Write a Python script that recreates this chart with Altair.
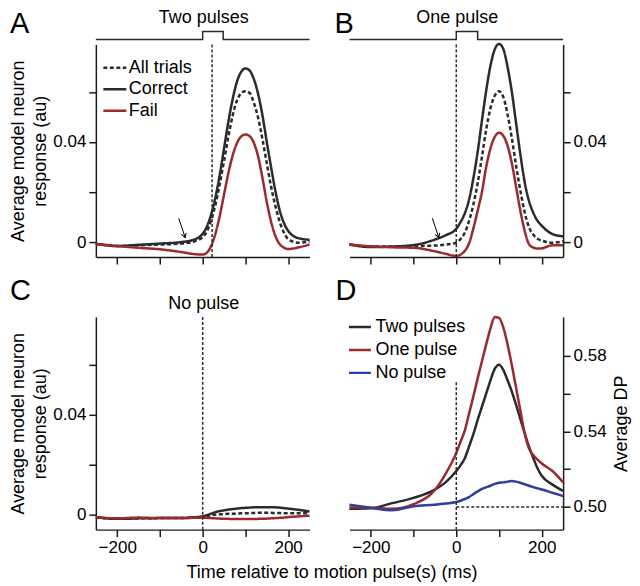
import altair as alt
import pandas as pd

FONT = "Liberation Sans"
DARK = "#2b2b2b"
RED = "#9b2a2c"
BLUE = "#2d3f9f"

# ---------------- data ----------------
time_ms = [-250, -200, -150, -100, -50, -25, 0, 10, 20, 30, 40, 50, 60, 70, 80,
           90, 100, 110, 120, 130, 140, 150, 160, 170, 180, 190, 200, 225, 250]

# Panel A: two pulses
a_all = [-0.0007, -0.0016, -0.0013, -0.0010, -0.0006, 0.0000, 0.0020, 0.0043, 0.0088,
         0.0150, 0.0232, 0.0325, 0.0420, 0.0505, 0.0565, 0.0595, 0.0603, 0.0596, 0.0555,
         0.0495, 0.0410, 0.0315, 0.0222, 0.0145, 0.0082, 0.0038, 0.0012, -0.0003, 0.0003]
a_correct = [-0.0007, -0.0016, -0.0011, -0.0006, 0.0000, 0.0007, 0.0033, 0.0063, 0.0112,
             0.0180, 0.0270, 0.0375, 0.0480, 0.0570, 0.0640, 0.0680, 0.0694, 0.0685, 0.0650,
             0.0590, 0.0505, 0.0400, 0.0300, 0.0205, 0.0128, 0.0077, 0.0045, 0.0015, 0.0009]
a_fail = [-0.0007, -0.0016, -0.0023, -0.0029, -0.0040, -0.0047, -0.0050, -0.0042, -0.0015,
          0.0035, 0.0105, 0.0190, 0.0275, 0.0345, 0.0395, 0.0422, 0.0430, 0.0423, 0.0395,
          0.0340, 0.0255, 0.0160, 0.0082, 0.0025, -0.0008, -0.0022, -0.0028, -0.0021, -0.0010]

# Panel B: one pulse
b_all = [-0.0010, -0.0018, -0.0018, -0.0016, -0.0014, -0.0010, -0.0003, 0.0012, 0.0037,
         0.0085, 0.0150, 0.0235, 0.0340, 0.0450, 0.0535, 0.0585, 0.0603, 0.0580, 0.0510,
         0.0415, 0.0305, 0.0205, 0.0120, 0.0060, 0.0030, 0.0013, 0.0006, -0.0003, 0.0003]
b_correct = [-0.0010, -0.0020, -0.0018, -0.0012, 0.0010, 0.0027, 0.0053, 0.0080, 0.0115,
             0.0170, 0.0255, 0.0360, 0.0485, 0.0605, 0.0705, 0.0770, 0.0792, 0.0772, 0.0700,
             0.0600, 0.0475, 0.0350, 0.0240, 0.0165, 0.0118, 0.0085, 0.0065, 0.0032, 0.0023]
b_fail = [-0.0010, -0.0017, -0.0021, -0.0023, -0.0037, -0.0047, -0.0056, -0.0050, -0.0035,
          -0.0005, 0.0055, 0.0125, 0.0200, 0.0300, 0.0375, 0.0420, 0.0437, 0.0425, 0.0385,
          0.0315, 0.0220, 0.0125, 0.0045, -0.0008, -0.0022, -0.0026, -0.0025, -0.0013, -0.0013]

# Panel C: no pulse
c_all = [-0.0010, -0.0017, -0.0015, -0.0014, -0.0014, -0.0012, -0.0009, -0.0006, -0.0003,
         0.0000, 0.0001, 0.0002, 0.0003, 0.0003, 0.0004, 0.0005, 0.0005, 0.0006, 0.0006,
         0.0007, 0.0007, 0.0007, 0.0007, 0.0006, 0.0006, 0.0005, 0.0005, 0.0005, 0.0005]
c_correct = [-0.0010, -0.0017, -0.0015, -0.0014, -0.0014, -0.0011, -0.0007, -0.0002, 0.0004,
             0.0010, 0.0014, 0.0017, 0.0020, 0.0022, 0.0024, 0.0026, 0.0027, 0.0028, 0.0029,
             0.0029, 0.0029, 0.0029, 0.0029, 0.0029, 0.0028, 0.0026, 0.0024, 0.0019, 0.0012]
c_fail = [-0.0010, -0.0015, -0.0012, -0.0014, -0.0014, -0.0013, -0.0012, -0.0013, -0.0014,
          -0.0015, -0.0016, -0.0017, -0.0017, -0.0018, -0.0018, -0.0018, -0.0018, -0.0018,
          -0.0018, -0.0017, -0.0017, -0.0016, -0.0015, -0.0014, -0.0013, -0.0012, -0.0010,
          -0.0007, -0.0004]

# Panel D: average DP
d_two = [0.4990, 0.4993, 0.5020, 0.5048, 0.5092, 0.5130, 0.5190, 0.5220, 0.5258, 0.5320,
         0.5385, 0.5460, 0.5530, 0.5600, 0.5670, 0.5730, 0.5752, 0.5725, 0.5670, 0.5610,
         0.5540, 0.5465, 0.5390, 0.5320, 0.5260, 0.5205, 0.5165, 0.5118, 0.5085]
d_one = [0.4997, 0.4996, 0.4990, 0.5015, 0.5090, 0.5175, 0.5286, 0.5345, 0.5405, 0.5495,
         0.5585, 0.5680, 0.5770, 0.5860, 0.5945, 0.6005, 0.6000, 0.5950, 0.5860, 0.5750,
         0.5630, 0.5510, 0.5390, 0.5310, 0.5275, 0.5250, 0.5230, 0.5190, 0.5130]
d_none = [0.5012, 0.4996, 0.4982, 0.5004, 0.5012, 0.5018, 0.5026, 0.5033, 0.5042, 0.5052,
          0.5068, 0.5082, 0.5095, 0.5104, 0.5112, 0.5122, 0.5128, 0.5130, 0.5134, 0.5137,
          0.5134, 0.5128, 0.5120, 0.5112, 0.5105, 0.5098, 0.5092, 0.5075, 0.5058]

trial_series = ["All trials", "Correct", "Fail"]
dp_series = ["Two pulses", "One pulse", "No pulse"]
panel_titles = ["Two pulses", "One pulse", "No pulse"]

# pulse timing traces drawn above panels A and B
pulse_a_t = [-250, 0, 0, 48, 48, 250]
pulse_b_t = [-250, 0, 0, 50, 50, 250]
pulse_level = [0, 0, 1, 1, 0, 0]

# reference (dashed) times
marker_a = [22]
marker_b = [0]
marker_c = [0]

# arrows in A and B (tail -> head)
arrow_t = [-56, -41]
arrow_v = [0.0095, 0.0018]

# Panel D reference lines
d_vline_t = [0]
d_vline_top = [0.566]
d_vline_bottom = [0.488]
d_hline_v = [0.5]
d_hline_t = [0, 250]

W = 214
H = 213
X_DOMAIN = [-250, 250]
Y_DOMAIN = [-0.006, 0.079]
D_DOMAIN = [0.488, 0.6005]

ALL_SERIES = trial_series + dp_series
COLOR_SCALE = alt.Scale(domain=ALL_SERIES, range=[DARK, DARK, RED, DARK, RED, BLUE])
DASH_SCALE = alt.Scale(domain=ALL_SERIES,
                       range=[[4, 2.5], [1, 0], [1, 0], [1, 0], [1, 0], [1, 0]])


def long_df(series_names, arrays):
    rows = []
    for name, arr in zip(series_names, arrays):
        for t, v in zip(time_ms, arr):
            rows.append({"t": t, "v": v, "series": name})
    return pd.DataFrame(rows)


xs = alt.Scale(domain=X_DOMAIN, nice=False, zero=False)
ys = alt.Scale(domain=Y_DOMAIN, nice=False, zero=False)
ds = alt.Scale(domain=D_DOMAIN, nice=False, zero=False)

X_VALUES = [-200, -100, 0, 100, 200]
X_LABEL_EXPR = "datum.value % 200 == 0 ? datum.label : ''"
Y_LABEL_EXPR = "datum.value == 0 ? '0' : (abs(datum.value - 0.04) < 1e-6 ? '0.04' : '')"
D_LABEL_EXPR = "round(datum.value * 100) % 4 == 2 ? format(datum.value, '.2f') : ''"

Y_TITLE = ["Average model neuron", "response (au)"]


def x_axis(labels, title=None):
    kw = dict(values=X_VALUES, labels=labels, grid=False, tickSize=7)
    if labels:
        kw["labelExpr"] = X_LABEL_EXPR
    if title:
        kw.update(title=title, titleX=236, titleY=48, titleAlign="center",
                  titleBaseline="alphabetic", titleAnchor="middle")
    else:
        kw["title"] = None
    return alt.Axis(**kw)


def y_axis(orient):
    kw = dict(values=[0, 0.02, 0.04, 0.06], labelExpr=Y_LABEL_EXPR, orient=orient,
              grid=False, tickSize=7)
    if orient == "left":
        kw.update(title=Y_TITLE, titleAngle=270, titleX=-77, titleY=H / 2,
                  titleAlign="center", titleBaseline="middle", titleLineHeight=22)
    else:
        kw["title"] = None
    return alt.Axis(**kw)


def letter_layer(letter, dx, dy):
    return alt.Chart(pd.DataFrame({"letter": [letter]})).mark_text(
        fontSize=29, font=FONT, align="left", baseline="alphabetic", color="black"
    ).encode(text="letter:N", x=alt.value(dx), y=alt.value(dy))


def title_layer(text, dy):
    return alt.Chart(pd.DataFrame({"title": [text]})).mark_text(
        fontSize=18, font=FONT, align="center", baseline="alphabetic", color="black"
    ).encode(text="title:N", x=alt.value(W / 2 + 1), y=alt.value(dy))


def response_panel(arrays, letter, ldx, ldy, title, tdy, orient, marker, pulse_t=None,
                   show_legend=False, x_labels=False, x_title=None, arrow=False):
    xa = x_axis(x_labels, x_title)
    df = long_df(trial_series, arrays)
    if show_legend:
        leg = alt.Legend(title=None, orient="none", legendX=6, legendY=13,
                         values=trial_series,
                         symbolType="stroke", symbolSize=529, symbolStrokeWidth=2.5,
                         labelFontSize=18, labelFont=FONT, labelColor="black",
                         labelOffset=1, rowPadding=0.5, clipHeight=21, padding=0)
    else:
        leg = None
    lines = alt.Chart(df).mark_line(strokeWidth=2.5, interpolate="monotone").encode(
        x=alt.X("t:Q", scale=xs, axis=xa),
        y=alt.Y("v:Q", scale=ys, axis=y_axis(orient)),
        color=alt.Color("series:N", scale=COLOR_SCALE, legend=leg),
        strokeDash=alt.StrokeDash("series:N", scale=DASH_SCALE, legend=leg),
    )
    rule = alt.Chart(pd.DataFrame({"t": marker})).mark_rule(
        strokeDash=[3, 2], strokeWidth=1.5, color=DARK
    ).encode(x=alt.X("t:Q", scale=xs, axis=xa))
    layers = [lines, rule]
    if pulse_t is not None:
        pdf = pd.DataFrame({"t": pulse_t, "level": pulse_level,
                            "i": list(range(len(pulse_t)))})
        pulse = alt.Chart(pdf).mark_line(strokeWidth=1.5, color=DARK).encode(
            x=alt.X("t:Q", scale=xs, axis=xa),
            y=alt.Y("level:Q", scale=alt.Scale(domain=[0, 1], range=[-5, -13]),
                    axis=None),
            order=alt.Order("i:Q"),
        )
        layers.append(pulse)
    if arrow:
        adf = pd.DataFrame({"t0": [arrow_t[0]], "t1": [arrow_t[1]],
                            "v0": [arrow_v[0]], "v1": [arrow_v[1]]})
        shaft = alt.Chart(adf).mark_rule(strokeWidth=1, color="black").encode(
            x=alt.X("t0:Q", scale=xs, axis=xa), x2="t1:Q",
            y=alt.Y("v0:Q", scale=ys, axis=None), y2="v1:Q")
        head = alt.Chart(adf).mark_point(
            shape="M-0.6,-1L0,0L0.6,-1", size=70, angle=341, filled=False,
            strokeWidth=1, color="black", opacity=1
        ).encode(x=alt.X("t1:Q", scale=xs, axis=xa),
                 y=alt.Y("v1:Q", scale=ys, axis=None))
        layers += [shaft, head]
    layers.append(letter_layer(letter, ldx, ldy))
    layers.append(title_layer(title, tdy))
    return alt.layer(*layers).resolve_scale(y="independent").properties(width=W, height=H)


panel_a = response_panel([a_all, a_correct, a_fail], "A", -86, -11, panel_titles[0], -21,
                         "left", marker_a, pulse_t=pulse_a_t, show_legend=True, arrow=True)
panel_b = response_panel([b_all, b_correct, b_fail], "B", -15, -11, panel_titles[1], -21,
                         "right", marker_b, pulse_t=pulse_b_t, arrow=True)
panel_c = response_panel([c_all, c_correct, c_fail], "C", -86, -17, panel_titles[2], -8,
                         "left", marker_c, x_labels=True,
                         x_title="Time relative to motion pulse(s) (ms)")

# Panel D
d_xa = x_axis(True)
ddf = long_df(dp_series, [d_two, d_one, d_none])
d_leg = alt.Legend(title=None, orient="none", legendX=-2, legendY=-1, values=dp_series,
                   symbolType="stroke", symbolSize=484, symbolStrokeWidth=2.5,
                   labelFontSize=18, labelFont=FONT, labelColor="black",
                   labelOffset=3, rowPadding=1, clipHeight=22, padding=0)
d_lines = alt.Chart(ddf).mark_line(strokeWidth=2.5, interpolate="monotone").encode(
    x=alt.X("t:Q", scale=xs, axis=d_xa),
    y=alt.Y("v:Q", scale=ds,
            axis=alt.Axis(values=[0.50, 0.52, 0.54, 0.56, 0.58], labelExpr=D_LABEL_EXPR,
                          orient="right", grid=False, tickSize=7, title="Average DP",
                          titleAngle=270, titleX=58, titleY=H / 2, titleAlign="center",
                          titleBaseline="middle")),
    color=alt.Color("series:N", scale=COLOR_SCALE, legend=d_leg),
)
d_vdf = pd.DataFrame({"t": d_vline_t, "top": d_vline_top, "bottom": d_vline_bottom})
d_vrule = alt.Chart(d_vdf).mark_rule(strokeDash=[3, 2], strokeWidth=1.5, color=DARK).encode(
    x=alt.X("t:Q", scale=xs, axis=d_xa),
    y=alt.Y("top:Q", scale=ds, axis=None), y2="bottom:Q")
d_hdf = pd.DataFrame({"v": d_hline_v, "t0": [d_hline_t[0]], "t1": [d_hline_t[1]]})
d_hrule = alt.Chart(d_hdf).mark_rule(strokeDash=[3, 2], strokeWidth=1.5, color=DARK).encode(
    x=alt.X("t0:Q", scale=xs, axis=d_xa), x2="t1:Q",
    y=alt.Y("v:Q", scale=ds, axis=None))
panel_d = alt.layer(d_lines, d_vrule, d_hrule, letter_layer("D", -14, -17)).resolve_scale(
    y="independent").properties(width=W, height=H)

chart = alt.concat(
    panel_a, panel_b, panel_c, panel_d, columns=2,
    spacing={"row": 60, "column": 40}, bounds="flush"
).resolve_scale(
    x="independent", y="independent"
).resolve_legend(
    color="independent", strokeDash="independent"
).properties(
    padding={"left": 2, "top": 1, "right": 2, "bottom": 2}
).configure(font=FONT).configure_view(stroke=None).configure_axis(
    domainColor="#1a1a1a", domainWidth=1.5, tickColor="#1a1a1a", tickWidth=1.5,
    labelFont=FONT, labelFontSize=17, labelColor="black", labelPadding=3,
    titleFont=FONT, titleFontSize=18, titleFontWeight="normal", titleColor="black",
)

chart.save("out.html", embed_options={"renderer": "svg", "actions": False})
